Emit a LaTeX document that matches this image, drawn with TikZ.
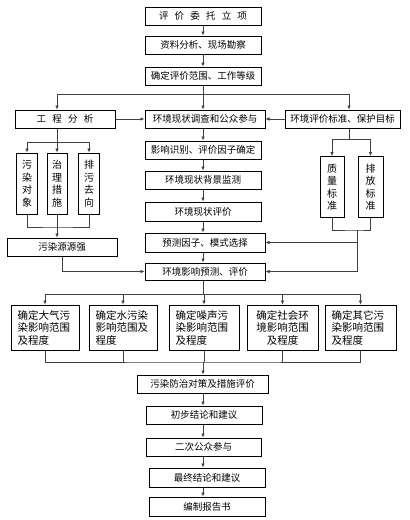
\documentclass[tikz,border=0pt]{standalone}
\usepackage{fontspec}
\setmainfont{Noto Sans CJK SC}
\usetikzlibrary{arrows.meta,calc}
\newcommand{\gp}{\hspace{0.65em}}
\begin{document}
\begin{tikzpicture}[x=1pt,y=-1pt,
  box/.style={draw=black,line width=1pt,fill=white,inner sep=0pt,
    font=\fontsize{9.5}{11}\selectfont},
  vbox/.style={box,align=center,text width=12pt,minimum height=61pt,
    font=\fontsize{10}{12.5}\selectfont},
  fbox/.style={box,minimum height=45pt,inner xsep=6.5pt,
    font=\fontsize{10.5}{12.5}\selectfont},
  ln/.style={draw=black!75,line width=0.6pt},
  arr/.style={ln,-{Latex[length=4pt,width=3.5pt]}}
]
\useasboundingbox[fill=white] (0,0) rectangle (410,520);

% main column top
\node[box,minimum width=116pt,minimum height=18pt] (n1) at (203,16) {评\gp 价\gp 委\gp 托\gp 立\gp 项};
\node[box,minimum width=116pt,minimum height=18pt] (n2) at (203,45) {资料分析、现场勘察};
\node[box,minimum width=116pt,minimum height=18pt] (n3) at (203,76) {确定评价范围、工作等级};

% second row
\node[box,minimum width=100pt,minimum height=18pt] (gc) at (65,119) {工\gp 程\gp 分\gp 析};
\node[box,minimum width=120pt,minimum height=18pt] (hj) at (205,119) {环境现状调查和公众参与};
\node[box,minimum width=115pt,minimum height=18pt] (bz) at (342.5,119) {环境评价标准、保护目标};

% centre chain
\node[box,minimum width=116pt,minimum height=18pt] (yx) at (203,150) {影响识别、评价因子确定};
\node[box,minimum width=116pt,minimum height=18pt] (bj) at (203,180) {环境现状背景监测};
\node[box,minimum width=116pt,minimum height=19pt] (xz) at (203,211.5) {环境现状评价};
\node[box,minimum width=120pt,minimum height=19pt] (yc) at (205,242.5) {预测因子、模式选择};
\node[box,minimum width=120pt,minimum height=17pt] (ying) at (205,271.5) {环境影响预测、评价};

% left column
\node[vbox,minimum width=21pt] (v1) at (27,183.5) {污\\染\\对\\象};
\node[vbox,minimum width=20pt] (v2) at (57,183.5) {治\\理\\措\\施};
\node[vbox,minimum width=21pt] (v3) at (89,183.5) {排\\污\\去\\向};
\node[box,minimum width=110pt,minimum height=18pt] (wy) at (62,247) {污染源源强};

% right column
\node[vbox,minimum width=24pt] (s1) at (332,187) {质\\量\\标\\准};
\node[vbox,minimum width=25pt] (s2) at (370.5,187) {排\\放\\标\\准};

% five boxes
\node[fbox,text width=55pt,align=left] (f1) at (45,327.5) {确定大气污\\染影响范围\\及程度};
\node[fbox,text width=55pt,align=left] (f2) at (123,327.5) {确定水污染\\影响范围及\\程度};
\node[fbox,text width=57pt,align=left] (f3) at (204,327.5) {确定噪声污\\染影响范围\\及程度};
\node[fbox,text width=58pt,align=center] (f4) at (282.5,327.5) {确定社会环\\境影响范围\\及程度};
\node[fbox,text width=58pt,align=left] (f5) at (360.5,327.5) {确定其它污\\染影响范围\\及程度};

% bottom chain
\node[box,minimum width=131pt,minimum height=18pt] (fz) at (202.5,384) {污染防治对策及措施评价};
\node[box,minimum width=116pt,minimum height=18pt] (cb) at (204,415) {初步结论和建议};
\node[box,minimum width=115pt,minimum height=18pt] (ec) at (203.5,447) {二次公众参与};
\node[box,minimum width=116pt,minimum height=19pt] (zz) at (207,477.5) {最终结论和建议};
\node[box,minimum width=116pt,minimum height=19pt] (bg) at (207,506.5) {编制报告书};

% coordinates
\coordinate (b1) at (203,94);
\coordinate (L1) at (57,142);
\coordinate (L2) at (57,227);
\coordinate (R1) at (349,139);
\coordinate (R2) at (357,230);
\coordinate (F1) at (203,294);
\coordinate (F2) at (203,362);

% top connectors
\draw[arr] (n1) -- (n2);
\draw[arr] (n2) -- (n3);
\draw[ln] (n3.south -| b1) -- (b1);
\draw[arr] (b1) -| ([xshift=-8pt]gc.north);
\draw[arr] (b1) -- (b1 |- hj.north);
\draw[arr] (b1) -| ([xshift=6.5pt]bz.north);
\draw[arr] (gc.east) -- (hj.west);
\draw[arr] (bz.west) -- (hj.east);

% centre chain
\draw[arr] (hj.south -| b1) -- (yx.north -| b1);
\draw[arr] (yx.south -| b1) -- (bj.north -| b1);
\draw[arr] (bj.south -| b1) -- (xz.north -| b1);
\draw[arr] (xz.south -| b1) -- (yc.north -| b1);
\draw[arr] (yc.south -| b1) -- (ying.north -| b1);

% left branch
\draw[ln] ([xshift=-8pt]gc.south) -- (L1);
\draw[ln] (v1.north |- L1) -- (v3.north |- L1);
\draw[arr] (v1.north |- L1) -- (v1.north);
\draw[arr] (L1) -- (v2.north);
\draw[arr] (v3.north |- L1) -- (v3.north);
\draw[ln] (v1.south) |- (L2) -| (v3.south);
\draw[ln] (v2.south) -- (L2);
\draw[arr] (L2) -- (L2 |- wy.north);
\draw[arr] (wy.south) |- (ying.west);

% right branch
\draw[ln] ([xshift=6.5pt]bz.south) -- (R1);
\draw[ln] (s1.north |- R1) -- (s2.north |- R1);
\draw[arr] (s1.north |- R1) -- (s1.north);
\draw[arr] (s2.north |- R1) -- (s2.north);
\draw[ln] (s1.south) |- (R2) -| (s2.south);
\draw[ln] (R2) -- (R2 |- ying.east);
\draw[arr] (R2 |- yc.east) -- (yc.east);
\draw[arr] (R2 |- ying.east) -- (ying.east);

% five boxes
\draw[ln] (ying.south -| F1) -- (F1);
\draw[ln] (f1.north |- F1) -- (f5.north |- F1);
\foreach \f in {f1,f2,f3,f4,f5}{\draw[arr] (\f.north |- F1) -- (\f.north);}
\draw[ln] (f1.south) |- (F2) -| (f5.south);
\foreach \f in {f2,f3,f4}{\draw[ln] (\f.south) -- (\f.south |- F2);}
\draw[arr] (F2) -- (F2 |- fz.north);

% bottom chain
\draw[arr] (fz.south -| F2) -- (cb.north -| F2);
\draw[arr] (cb.south -| F2) -- (ec.north -| F2);
\draw[arr] (ec.south -| F2) -- (zz.north -| F2);
\draw[arr] (zz.south -| F2) -- (bg.north -| F2);
\end{tikzpicture}
\end{document}
